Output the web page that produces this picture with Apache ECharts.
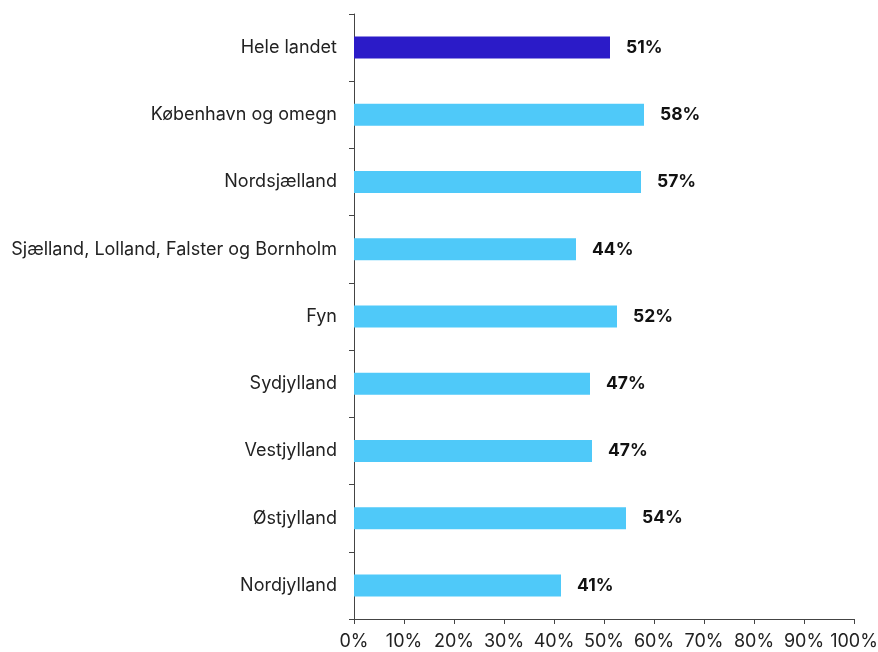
<!DOCTYPE html>
<html>
<head>
<meta charset="utf-8">
<script src="https://cdn.jsdelivr.net/npm/echarts@6/dist/echarts.min.js"></script>
<style>
  html, body { margin: 0; padding: 0; background: #fff; }
  #chart { width: 878px; height: 652px; }
</style>
</head>
<body>
<div id="chart"></div>
<script>
const regions = [
  'Hele landet',
  'København og omegn',
  'Nordsjælland',
  'Sjælland, Lolland, Falster og Bornholm',
  'Fyn',
  'Sydjylland',
  'Vestjylland',
  'Østjylland',
  'Nordjylland'
]
const shares = [51.2, 58.0, 57.4, 44.4, 52.6, 47.2, 47.6, 54.4, 41.4]
const shareLabels = ['51%', '58%', '57%', '44%', '52%', '47%', '47%', '54%', '41%']
const xTicks = [0, 10, 20, 30, 40, 50, 60, 70, 80, 90, 100]

const DARK = '#2b1bc8'
const LIGHT = '#4fc9f9'
const FONT = 'Inter, "Liberation Sans", sans-serif'

const chart = echarts.init(document.getElementById('chart'))

chart.setOption({
  animation: false,
  grid: {
    top: 14,
    left: 354,
    right: 24,
    bottom: 33,
    containLabel: false,
    outerBoundsMode: 'none'
  },
  xAxis: {
    type: 'value',
    min: xTicks[0],
    max: xTicks[xTicks.length - 1],
    interval: 10,
    splitLine: { show: false },
    axisLine: { show: true, lineStyle: { color: '#444', width: 1 } },
    axisTick: { show: true, length: 5, lineStyle: { color: '#444' } },
    axisLabel: {
      formatter: '{value}%',
      color: '#222',
      fontSize: 18,
      fontFamily: FONT,
      margin: 14
    }
  },
  yAxis: {
    type: 'category',
    inverse: true,
    data: regions,
    axisLine: { show: true, lineStyle: { color: '#444', width: 1 } },
    axisTick: { show: true, length: 5, lineStyle: { color: '#444' } },
    axisLabel: {
      color: '#222',
      fontSize: 18,
      fontFamily: FONT,
      margin: 17
    }
  },
  series: [{
    type: 'bar',
    barWidth: 22,
    data: shares.map((v, i) => ({
      value: v,
      itemStyle: { color: i === 0 ? DARK : LIGHT }
    })),
    label: {
      show: true,
      position: 'right',
      distance: 16,
      formatter: (p) => shareLabels[p.dataIndex],
      color: '#111',
      fontSize: 17.5,
      fontWeight: 'bold',
      fontFamily: FONT
    }
  }]
})
</script>
</body>
</html>
